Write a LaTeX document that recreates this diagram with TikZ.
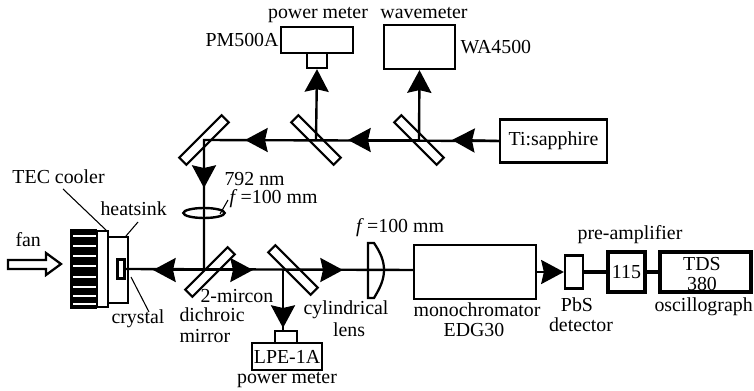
\documentclass[tikz,border=0pt]{standalone}
\usepackage{fontspec}
\setmainfont{Liberation Serif}
\usetikzlibrary{arrows.meta,shapes.geometric}
\tikzset{every picture/.style={line width=0.75pt}}
\tikzset{
  txt/.style={inner sep=0pt,font=\fontsize{14.9}{16}\selectfont},
  devbox/.style={draw,line width=1.7pt,inner sep=0pt,fill=white},
  thickbox/.style={draw,line width=2.4pt,inner sep=0pt,fill=white},
  mirror/.style={draw,line width=1.6pt,fill=white,inner sep=0pt,minimum width=45pt,minimum height=7.5pt},
  beam/.style={line width=1.8pt},
  beamtip/.style={line width=1.8pt,-{Stealth[length=17pt,width=18pt,inset=2pt]}},
  leader/.style={line width=0.8pt},
}

\begin{document}
\begin{tikzpicture}[x=0.75pt,y=0.75pt,yscale=-1,xscale=1]
\useasboundingbox (0,0) rectangle (754,391);

%Shape: instruments
\node [devbox,minimum width=54pt,minimum height=19.5pt] (pmbox) at (317,40) {};
\node [devbox,minimum width=15pt,minimum height=11.25pt] (pmhead) at (317,60.5) {};
\node [devbox,minimum width=53.25pt,minimum height=33pt] (wavebox) at (419.5,47) {};
\node [devbox,minimum width=80.25pt,minimum height=32.25pt,txt] (tisa) at (553.5,141) {Ti:sapphire};
\node [devbox,minimum width=91.5pt,minimum height=40.5pt] (mono) at (475,272) {};
\node [devbox,minimum width=13.5pt,minimum height=24.75pt] (pbs) at (574,272) {};
\node [thickbox,minimum width=27.75pt,minimum height=30pt,txt] (amp) at (626.5,272) {115};
\node [thickbox,minimum width=68.25pt,minimum height=30pt] (tds) at (705.5,272) {};
\node [devbox,minimum width=52.5pt,minimum height=20.25pt,txt] (lpe) at (287,356.5) {LPE-1A};
\node [devbox,minimum width=16.5pt,minimum height=9pt] (lpehead) at (286,337) {};

%Shape: mirrors
\node [mirror,rotate=-45] (mirc) at (419,140) {};
\node [mirror,rotate=-45] (mirb) at (316,140) {};
\node [mirror,rotate=45] (mira) at (204,140) {};
\node [mirror,rotate=45] (mird) at (210,272) {};
\node [mirror,rotate=-45] (mire) at (293,270) {};

%Shape: focusing lens
\node [draw,ellipse,line width=1.8pt,inner sep=0pt,minimum width=31pt,minimum height=7.5pt] (lensa) at (204,213) {};
%Shape: cylindrical lens
\draw [line width=1.7pt] (368,243) -- (368,298) -- (374,298) .. controls (380,288) and (384,280) .. (384,270) .. controls (384,260) and (380,252) .. (374,243) -- cycle ;
\coordinate (lensb) at (376,270);

%Shape: fan block
\draw [line width=1.7pt] (8,260) -- (46,260) -- (46,253) -- (61,264) -- (46,275) -- (46,269) -- (8,269) -- cycle ;
\node [fill=black,inner sep=0pt,minimum width=20.25pt,minimum height=60pt] (fins) at (83.5,269.5) {};
\foreach \y in {236,246,256,266,277,287,296,304} {
  \draw [white,line width=0.8pt] (73,\y) -- (96,\y);
}
\node [devbox,minimum width=8.25pt,minimum height=57pt] (tec) at (102.5,269) {};
\node [devbox,minimum width=15pt,minimum height=49.5pt] (sink) at (118,270) {};
\node [devbox,minimum width=5.25pt,minimum height=14.25pt] (crystal) at (121,269) {};

%Straight Lines: beams
\coordinate (tipa) at (452,140);
\coordinate (tipb) at (348,140);
\coordinate (tipc) at (245,140);
\coordinate (tipd) at (204,188);
\coordinate (tipe) at (153,270);
\coordinate (tipf) at (253,270);
\coordinate (tipg) at (343,270);
\coordinate (tiph) at (283,328);
\coordinate (mirdin) at (204,270);
\coordinate (mireout) at (283,270);
\draw [beam] (tisa.west) -- (mira.center) -- (mirdin) ;
\draw [beam] (crystal.east) -- (mono.west |- lensb) ;
\draw [beam] (mireout) -- (lpehead.north -| mireout) ;
\draw [beamtip] (mirb.center) -- (pmhead.south) ;
\draw [beamtip] (mirc.center) -- (wavebox.south) ;
\draw [beamtip] (tisa.west) -- (tipa) ;
\draw [beamtip] (mirc.center) -- (tipb) ;
\draw [beamtip] (mirb.center) -- (tipc) ;
\draw [beamtip] (mira.center) -- (tipd) ;
\draw [beamtip] (mirdin) -- (tipe) ;
\draw [beamtip] (mirdin) -- (tipf) ;
\draw [beamtip] (mireout) -- (tipg) ;
\draw [beamtip] (mireout) -- (tiph) ;
\draw [beamtip] (mono.east) -- (pbs.west) ;
\draw [line width=2.4pt] (pbs.east) -- (amp.west) ;
\draw [line width=2.4pt] (amp.east) -- (tds.west) ;

%Straight Lines: leaders
\coordinate (tecend) at (63,189);
\coordinate (tectop) at (107,231);
\coordinate (sinkend) at (138,222);
\coordinate (sinktop) at (126,236);
\coordinate (crysend) at (149,312);
\coordinate (crysbot) at (131,277);
\coordinate (fend) at (228,200);
\coordinate (lensend) at (220,214);
\draw [leader] (tecend) -- (tectop) ;
\draw [leader] (sinkend) -- (sinktop) ;
\draw [leader] (crysend) -- (crysbot) ;
\draw [leader] (fend) -- (lensend) ;

% Text Node
\node [txt] (lblpm) at (318,15) {power meter};
\node [txt] (lblwave) at (424,13) {wavemeter};
\node [txt,anchor=east] (lblpma) at (279,40) {PM500A};
\node [txt,anchor=west] (lblwa) at (460,47) {WA4500};
\node [txt,anchor=west] (lbl792) at (224,179) {792 nm};
\node [txt,anchor=west] (lblfa) at (229,199) {\textit{f}\,=100 mm};
\node [txt,anchor=west] (lbltec) at (12,177) {TEC cooler};
\node [txt,anchor=west] (lblheat) at (100,209) {heatsink};
\node [txt,anchor=west] (lblfan) at (15,240) {fan};
\node [txt,anchor=west] (lblcrys) at (111,319) {crystal};
\node [txt,anchor=west] (lblmic) at (200,296) {2-mircon};
\node [txt,anchor=west] (lbldich) at (179,315) {dichroic};
\node [txt,anchor=west] (lblmir) at (179,336) {mirror};
\node [txt] (lblfb) at (400,228) {\textit{f}\,=100 mm};
\node [txt] (lblcyl) at (346,310) {cylindrical};
\node [txt] (lbllens) at (349,330) {lens};
\node [txt] (lblmono) at (477,310) {monochromator};
\node [txt] (lbledg) at (474,330) {EDG30};
\node [txt] (lblpow) at (287,380) {power meter};
\node [txt] (lblpbs) at (577,305) {PbS};
\node [txt] (lbldet) at (581,325) {detector};
\node [txt] (lblpre) at (630,235) {pre-amplifier};
\node [txt] (lbltds) at (702,264) {TDS};
\node [txt] (lbl380) at (702,284) {380};
\node [txt,anchor=west] (lblosc) at (654,307) {oscillograph};

\end{tikzpicture}
\end{document}
